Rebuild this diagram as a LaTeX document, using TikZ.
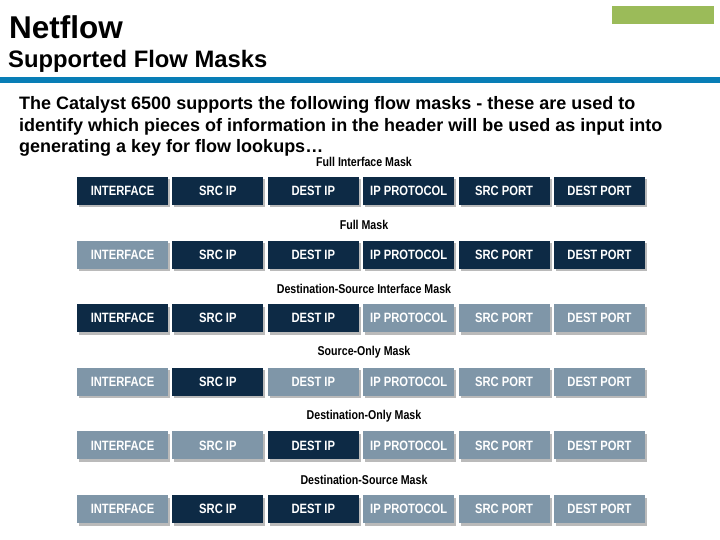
\documentclass[tikz,border=0pt]{standalone}
\usepackage{fontspec}
\setmainfont{Liberation Sans}
\newfontfamily\narrowfont[FakeStretch=0.83]{Liberation Sans}
\usetikzlibrary{shadows}
\definecolor{keyon}{RGB}{13,42,69}
\definecolor{keyoff}{RGB}{127,150,168}
\definecolor{rulebl}{RGB}{8,126,182}
\definecolor{tabgreen}{RGB}{155,187,89}

\begin{document}
\begin{tikzpicture}[x=1pt,y=-1pt,
  fld/.style={minimum width=91pt, minimum height=28pt, inner sep=0pt, outer sep=0pt, text=white,
    font=\narrowfont\bfseries\fontsize{13.5}{14}\selectfont,
    drop shadow={shadow xshift=2pt, shadow yshift=-2.5pt, fill=black!45, opacity=.6}},
  inkey/.style={fld, fill=keyon},
  outkey/.style={fld, fill=keyoff},
  maskname/.style={inner sep=0pt, font=\narrowfont\bfseries\fontsize{12.8}{13}\selectfont},
  bodyline/.style={anchor=base west, inner sep=0pt, font=\bfseries\fontsize{18}{21}\selectfont}]
\fill[white] (0,0) rectangle (720,540);
\useasboundingbox (0,0) rectangle (720,540);

\fill[tabgreen] (612,6) rectangle (714,24);
\fill[rulebl] (0,77) rectangle (720,83.5);
\node[anchor=base west, inner sep=0pt, font=\bfseries\fontsize{31.5}{36}\selectfont] (title) at (9,39) {Netflow};
\node[anchor=base west, inner sep=0pt, font=\bfseries\fontsize{23.8}{28}\selectfont] (subtitle) at (8,68) {Supported Flow Masks};
\node[bodyline] (body1) at (19,110) {The Catalyst 6500 supports the following flow masks - these are used to};
\node[bodyline] (body2) at (19,131.5) {identify which pieces of information in the header will be used as input into};
\node[bodyline] (body3) at (19,153) {generating a key for flow lookups…};

\node[maskname] (fim) at (364,161.5) {Full Interface Mask};
\node[inkey] (fim-int) at (122.5,191) {INTERFACE};
\node[inkey] (fim-sip) at (217.9,191) {SRC IP};
\node[inkey] (fim-dip) at (313.3,191) {DEST IP};
\node[inkey] (fim-pro) at (408.7,191) {IP PROTOCOL};
\node[inkey] (fim-spt) at (504.1,191) {SRC PORT};
\node[inkey] (fim-dpt) at (599.5,191) {DEST PORT};

\node[maskname] (fm) at (364,225.1) {Full Mask};
\node[outkey] (fm-int) at (122.5,254.6) {INTERFACE};
\node[inkey] (fm-sip) at (217.9,254.6) {SRC IP};
\node[inkey] (fm-dip) at (313.3,254.6) {DEST IP};
\node[inkey] (fm-pro) at (408.7,254.6) {IP PROTOCOL};
\node[inkey] (fm-spt) at (504.1,254.6) {SRC PORT};
\node[inkey] (fm-dpt) at (599.5,254.6) {DEST PORT};

\node[maskname] (dsim) at (364,288.7) {Destination-Source Interface Mask};
\node[inkey] (dsim-int) at (122.5,318.2) {INTERFACE};
\node[inkey] (dsim-sip) at (217.9,318.2) {SRC IP};
\node[inkey] (dsim-dip) at (313.3,318.2) {DEST IP};
\node[outkey] (dsim-pro) at (408.7,318.2) {IP PROTOCOL};
\node[outkey] (dsim-spt) at (504.1,318.2) {SRC PORT};
\node[outkey] (dsim-dpt) at (599.5,318.2) {DEST PORT};

\node[maskname] (som) at (364,352.3) {Source-Only Mask};
\node[outkey] (som-int) at (122.5,381.8) {INTERFACE};
\node[inkey] (som-sip) at (217.9,381.8) {SRC IP};
\node[outkey] (som-dip) at (313.3,381.8) {DEST IP};
\node[outkey] (som-pro) at (408.7,381.8) {IP PROTOCOL};
\node[outkey] (som-spt) at (504.1,381.8) {SRC PORT};
\node[outkey] (som-dpt) at (599.5,381.8) {DEST PORT};

\node[maskname] (dom) at (364,415.9) {Destination-Only Mask};
\node[outkey] (dom-int) at (122.5,445.4) {INTERFACE};
\node[outkey] (dom-sip) at (217.9,445.4) {SRC IP};
\node[inkey] (dom-dip) at (313.3,445.4) {DEST IP};
\node[outkey] (dom-pro) at (408.7,445.4) {IP PROTOCOL};
\node[outkey] (dom-spt) at (504.1,445.4) {SRC PORT};
\node[outkey] (dom-dpt) at (599.5,445.4) {DEST PORT};

\node[maskname] (dsm) at (364,479.5) {Destination-Source Mask};
\node[outkey] (dsm-int) at (122.5,509) {INTERFACE};
\node[inkey] (dsm-sip) at (217.9,509) {SRC IP};
\node[inkey] (dsm-dip) at (313.3,509) {DEST IP};
\node[outkey] (dsm-pro) at (408.7,509) {IP PROTOCOL};
\node[outkey] (dsm-spt) at (504.1,509) {SRC PORT};
\node[outkey] (dsm-dpt) at (599.5,509) {DEST PORT};
\end{tikzpicture}
\end{document}
